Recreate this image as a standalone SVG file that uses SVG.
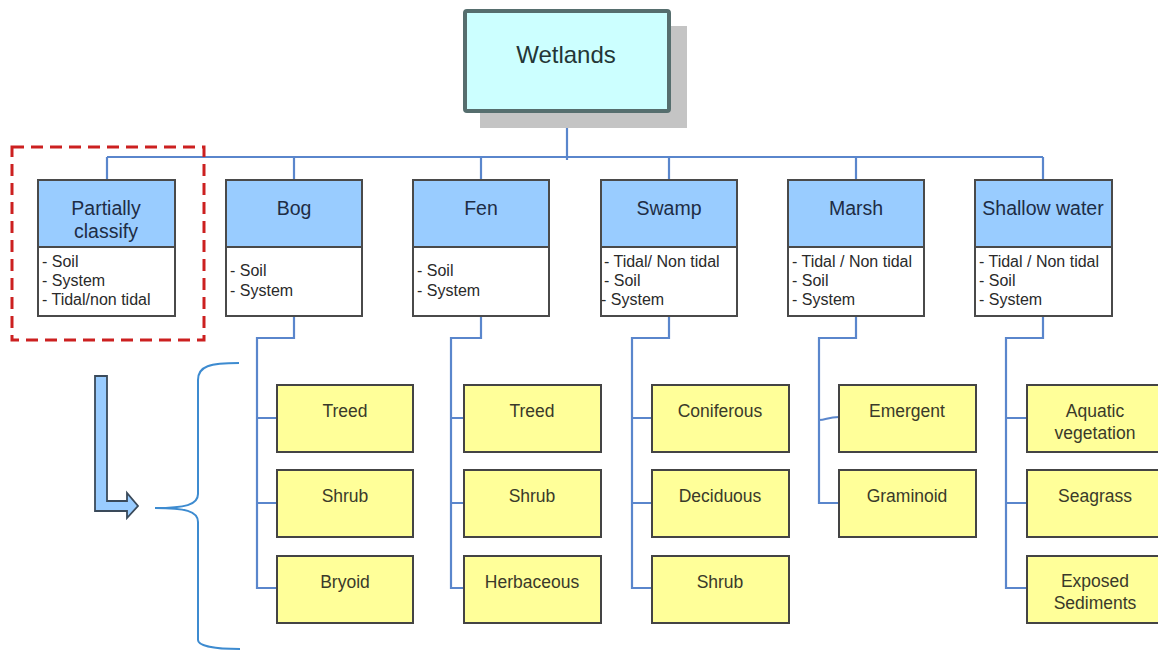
<svg xmlns="http://www.w3.org/2000/svg" width="1158" height="652" viewBox="0 0 1158 652">
  <style>
    .conn { fill: none; stroke: #5a86cc; stroke-width: 2.2; }
    .cat-head { fill: #99ccff; stroke: #4a4a4a; stroke-width: 2; }
    .cat-body { fill: #ffffff; stroke: #4a4a4a; stroke-width: 2; }
    .leaf { fill: #ffff99; stroke: #444444; stroke-width: 2; }
    .head-t { font-family: "Liberation Sans", Arial, sans-serif; font-size: 19.5px; fill: #1e2d45; text-anchor: middle; }
    .body-t { font-family: "Liberation Sans", Arial, sans-serif; font-size: 16px; fill: #2a2a2a; }
    .leaf-t { font-family: "Liberation Sans", Arial, sans-serif; font-size: 17.5px; fill: #3a3a2a; text-anchor: middle; }
  </style>

  <rect width="1158" height="652" fill="#ffffff"/>

  <!-- connectors -->
  <g id="connectors">
    <path class="conn" d="M567 112 V160"/>
    <path class="conn" d="M107 157 H1043"/>
    <path class="conn" d="M107 157 V180 M294 157 V180 M481 157 V180 M669 157 V180 M856 157 V180 M1043 157 V180"/>
    <!-- Bog -->
    <path class="conn" d="M294 316 V338 H257 V588 H277 M257 418 H277 M257 503 H277"/>
    <!-- Fen -->
    <path class="conn" d="M481 316 V338 H451 V588 H464 M451 418 H464 M451 503 H464"/>
    <!-- Swamp -->
    <path class="conn" d="M669 316 V338 H632 V588 H652 M632 418 H652 M632 503 H652"/>
    <!-- Marsh -->
    <path class="conn" d="M856 316 V338 H819 V503 H839 M819 420 C826 420 828 417 839 417"/>
    <!-- Shallow water -->
    <path class="conn" d="M1043 316 V338 H1006 V588 H1027 M1006 418 H1027 M1006 503 H1027"/>
  </g>

  <!-- root -->
  <g id="wetlands">
    <rect x="480" y="26" width="207" height="102" fill="#c4c4c4"/>
    <rect x="465" y="11" width="204" height="100" rx="2" fill="#ccffff" stroke="#566e6e" stroke-width="4"/>
    <text x="566" y="63" font-family="Liberation Sans, Arial, sans-serif" font-size="24" fill="#243636" text-anchor="middle">Wetlands</text>
  </g>

  <!-- highlight around the partial class -->
  <rect id="partial-frame" x="12" y="147" width="192" height="193" fill="none" stroke="#cc2020" stroke-width="3" stroke-dasharray="12 7"/>

  <g id="partially">
    <rect class="cat-head" x="38" y="180" width="137" height="67"/>
    <rect class="cat-body" x="38" y="247" width="137" height="69"/>
    <text class="head-t" x="106" y="215">Partially</text>
    <text class="head-t" x="106" y="238">classify</text>
    <text class="body-t" x="42" y="267">- Soil</text>
    <text class="body-t" x="42" y="286">- System</text>
    <text class="body-t" x="42" y="305">- Tidal/non tidal</text>
  </g>

  <g id="bog">
    <rect class="cat-head" x="226" y="180" width="136" height="67"/>
    <rect class="cat-body" x="226" y="247" width="136" height="69"/>
    <text class="head-t" x="294" y="215">Bog</text>
    <text class="body-t" x="230" y="276">- Soil</text>
    <text class="body-t" x="230" y="296">- System</text>
  </g>

  <g id="fen">
    <rect class="cat-head" x="413" y="180" width="136" height="67"/>
    <rect class="cat-body" x="413" y="247" width="136" height="69"/>
    <text class="head-t" x="481" y="215">Fen</text>
    <text class="body-t" x="417" y="276">- Soil</text>
    <text class="body-t" x="417" y="296">- System</text>
  </g>

  <g id="swamp">
    <rect class="cat-head" x="601" y="180" width="136" height="67"/>
    <rect class="cat-body" x="601" y="247" width="136" height="69"/>
    <text class="head-t" x="669" y="215">Swamp</text>
    <text class="body-t" x="604" y="267">- Tidal/ Non tidal</text>
    <text class="body-t" x="604" y="286">- Soil</text>
    <text class="body-t" x="601" y="305">- System</text>
  </g>

  <g id="marsh">
    <rect class="cat-head" x="788" y="180" width="136" height="67"/>
    <rect class="cat-body" x="788" y="247" width="136" height="69"/>
    <text class="head-t" x="856" y="215">Marsh</text>
    <text class="body-t" x="792" y="267">- Tidal / Non tidal</text>
    <text class="body-t" x="792" y="286">- Soil</text>
    <text class="body-t" x="792" y="305">- System</text>
  </g>

  <g id="shallow-water">
    <rect class="cat-head" x="975" y="180" width="137" height="67"/>
    <rect class="cat-body" x="975" y="247" width="137" height="69"/>
    <text class="head-t" x="1043" y="215">Shallow water</text>
    <text class="body-t" x="979" y="267">- Tidal / Non tidal</text>
    <text class="body-t" x="979" y="286">- Soil</text>
    <text class="body-t" x="979" y="305">- System</text>
  </g>

  <!-- Bog classes -->
  <g id="bog-treed"><rect class="leaf" x="277" y="385" width="136" height="67"/><text class="leaf-t" x="345" y="417">Treed</text></g>
  <g id="bog-shrub"><rect class="leaf" x="277" y="470" width="136" height="67"/><text class="leaf-t" x="345" y="502">Shrub</text></g>
  <g id="bog-bryoid"><rect class="leaf" x="277" y="556" width="136" height="67"/><text class="leaf-t" x="345" y="588">Bryoid</text></g>

  <!-- Fen classes -->
  <g id="fen-treed"><rect class="leaf" x="464" y="385" width="137" height="67"/><text class="leaf-t" x="532" y="417">Treed</text></g>
  <g id="fen-shrub"><rect class="leaf" x="464" y="470" width="137" height="67"/><text class="leaf-t" x="532" y="502">Shrub</text></g>
  <g id="fen-herbaceous"><rect class="leaf" x="464" y="556" width="137" height="67"/><text class="leaf-t" x="532" y="588">Herbaceous</text></g>

  <!-- Swamp classes -->
  <g id="swamp-coniferous"><rect class="leaf" x="652" y="385" width="137" height="67"/><text class="leaf-t" x="720" y="417">Coniferous</text></g>
  <g id="swamp-deciduous"><rect class="leaf" x="652" y="470" width="137" height="67"/><text class="leaf-t" x="720" y="502">Deciduous</text></g>
  <g id="swamp-shrub"><rect class="leaf" x="652" y="556" width="137" height="67"/><text class="leaf-t" x="720" y="588">Shrub</text></g>

  <!-- Marsh classes -->
  <g id="marsh-emergent"><rect class="leaf" x="839" y="385" width="137" height="67"/><text class="leaf-t" x="907" y="417">Emergent</text></g>
  <g id="marsh-graminoid"><rect class="leaf" x="839" y="470" width="137" height="67"/><text class="leaf-t" x="907" y="502">Graminoid</text></g>

  <!-- Shallow water classes -->
  <g id="sw-aquatic"><rect class="leaf" x="1027" y="385" width="137" height="67"/><text class="leaf-t" x="1095" y="417">Aquatic</text><text class="leaf-t" x="1095" y="439">vegetation</text></g>
  <g id="sw-seagrass"><rect class="leaf" x="1027" y="470" width="137" height="67"/><text class="leaf-t" x="1095" y="502">Seagrass</text></g>
  <g id="sw-exposed"><rect class="leaf" x="1027" y="556" width="137" height="67"/><text class="leaf-t" x="1095" y="587">Exposed</text><text class="leaf-t" x="1095" y="609">Sediments</text></g>

  <!-- bent arrow and brace -->
  <g id="bent-arrow">
    <path d="M95 376 H107 V501 H127 V493 L138 506 L127 518 V511 H95 Z" fill="#99ccff" stroke="#3a4a5a" stroke-width="1.8" stroke-linejoin="miter"/>
  </g>
  <g id="brace">
    <path d="M239 363 C210 363 198 366 198 380 V494 C198 505 185 508 155 508 C185 508 198 511 198 522 V640 C198 646 215 649 240 649" fill="none" stroke="#3d8bd0" stroke-width="2"/>
  </g>
</svg>
